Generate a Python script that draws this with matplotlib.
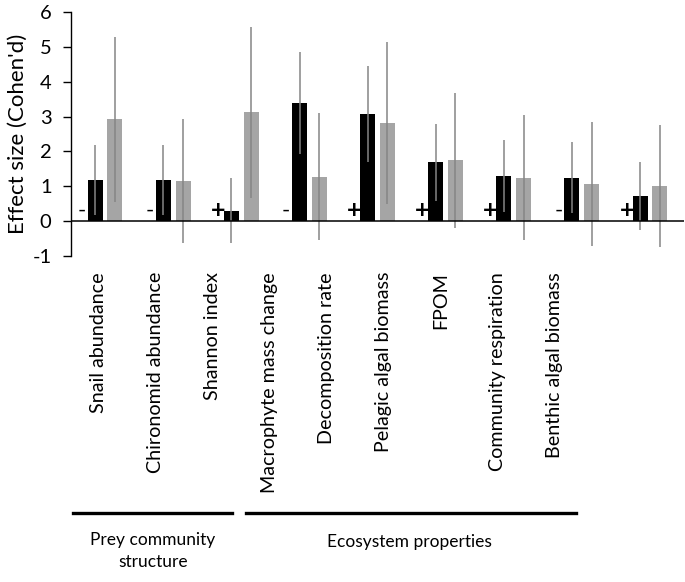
"""
Effect sizes for prey community structure and ecosystem properties
"""
import numpy as np
import matplotlib
matplotlib.use('Agg')
import matplotlib.pyplot as plt
from matplotlib.lines import Line2D

plt.rcParams['font.family'] = ['Lato', 'DejaVu Sans']
plt.rcParams['axes.unicode_minus'] = False

# data
CATEGORIES = ['Snail abundance', 'Chironomid abundance', 'Shannon index',
              'Macrophyte mass change', 'Decomposition rate',
              'Pelagic algal biomass', 'FPOM', 'Community respiration',
              'Benthic algal biomass']
black_vals = [1.18, 1.18, 0.30, 3.39, 3.07, 1.69, 1.29, 1.25, 0.73]
black_err = [1.00, 1.00, 0.93, 1.45, 1.38, 1.10, 1.03, 1.02, 0.97]
gray_vals = [2.92, 1.15, 3.12, 1.28, 2.82, 1.74, 1.25, 1.06, 1.00]
gray_err = [2.36, 1.78, 2.46, 1.82, 2.32, 1.95, 1.80, 1.77, 1.75]
signs = ['-', '-', '+', '-', '+', '+', '+', '-', '+']
groups = ['Prey community\nstructure', 'Ecosystem properties']

fig = plt.figure(figsize=(6.85, 5.82), dpi=100)
ax = fig.add_axes([71/685, 1 - 256/582, 613/685, 244/582])

x = np.arange(len(CATEGORIES))
w = 0.22
off = 0.145
ax.bar(x - off, black_vals, w, color='black', zorder=2)
ax.bar(x + off, gray_vals, w, color='#a5a5a5', zorder=2)
ax.errorbar(x - off, black_vals, yerr=black_err, fmt='none', ecolor='#858585',
            elinewidth=1.1, capsize=0, zorder=3)
ax.errorbar(x + off, gray_vals, yerr=gray_err, fmt='none', ecolor='#858585',
            elinewidth=1.1, capsize=0, zorder=3)

for i, s in enumerate(signs):
    ax.text(i - 0.34, 0.3, s, ha='center', va='center',
            fontsize=18 if s == '+' else 16, fontweight='bold' if s == '+' else 'normal')

ax.axhline(0, color='black', lw=1.1, zorder=4)
ax.set_xlim(-0.5, 8.5)
ax.set_ylim(-1, 6)
ax.set_yticks(range(-1, 7))
ax.tick_params(axis='y', labelsize=14.5, length=6, width=1, direction='out', pad=8)
ax.set_xticks([])
for sp in ['top', 'right', 'bottom']:
    ax.spines[sp].set_visible(False)
ax.spines['left'].set_linewidth(1)
ax.set_ylabel("Effect size (Cohen'd)", fontsize=16, labelpad=3)

# category labels (rotated, own spacing)
lab_pos = np.arange(len(CATEGORIES)) * 0.837 - 0.095
for p, lab in zip(lab_pos, CATEGORIES):
    ax.text(p, -1.0 - 16/244*7, lab, rotation=90, ha='center', va='top',
            fontsize=14.2, clip_on=False)

# group lines and labels (figure pixels)
def fx(px):
    return px / 685
def fy(py):
    return 1 - py / 582

fig.add_artist(Line2D([fx(73), fx(232)], [fy(513), fy(513)], color='black', lw=2.4))
fig.add_artist(Line2D([fx(246), fx(576)], [fy(513), fy(513)], color='black', lw=2.4))
fig.text(fx(153), fy(551), groups[0], ha='center', va='center', fontsize=12.5,
         linespacing=1.5)
fig.text(fx(409), fy(542), groups[1], ha='center', va='center', fontsize=12.5)

plt.savefig('out.png', dpi=100)
